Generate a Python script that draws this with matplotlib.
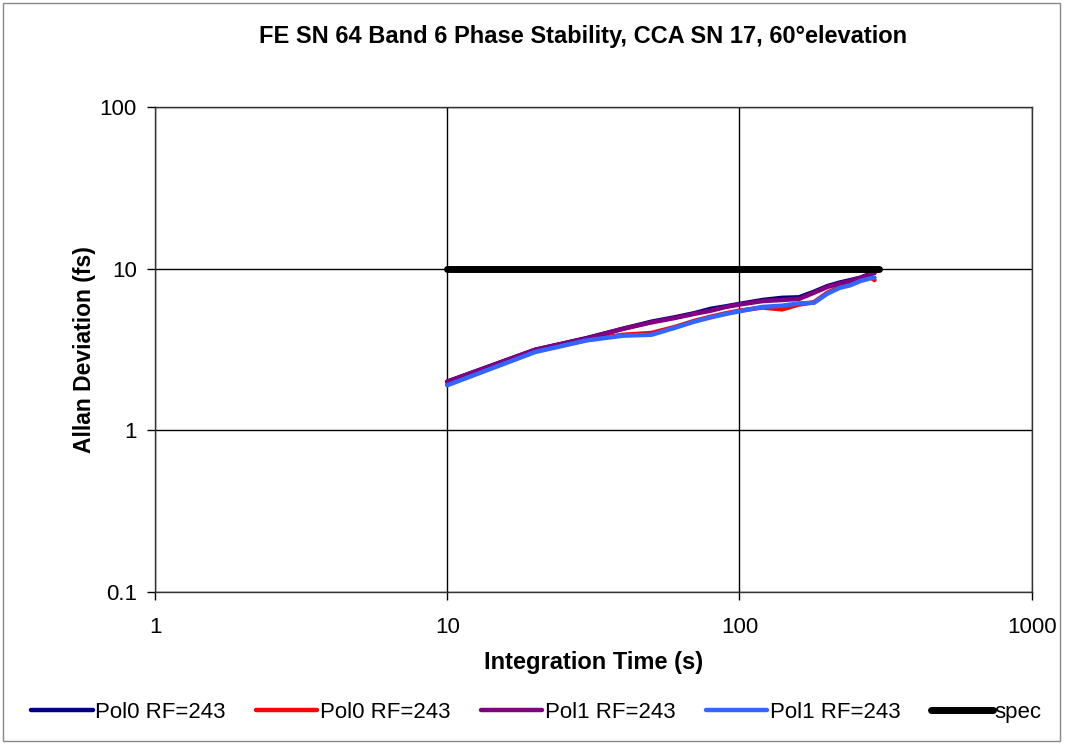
import matplotlib.pyplot as plt
from matplotlib.patches import Rectangle
from matplotlib.ticker import FixedLocator, FixedFormatter, NullLocator

plt.rcParams['font.family'] = ['Liberation Sans', 'DejaVu Sans']

# integration times (s) and Allan deviation (fs) for each polarization / run
t = [10, 20, 30, 40, 50, 60, 70, 80, 90, 100, 120, 140, 160, 180, 200, 220, 240, 260, 280, 290]
pol0_a = [2.0, 3.15, 3.72, 4.25, 4.7, 5.0, 5.3, 5.65, 5.85, 6.05, 6.4, 6.6, 6.65, 7.2, 7.8, 8.2, 8.5, 8.8, 9.3, 9.5]
pol0_b = [1.92, 3.08, 3.62, 3.9, 4.0, 4.35, 4.75, 5.05, 5.3, 5.5, 5.75, 5.6, 6.0, 6.2, 7.1, 7.7, 8.1, 8.5, 8.9, 8.5]
pol1_a = [2.0, 3.15, 3.7, 4.25, 4.65, 4.95, 5.25, 5.5, 5.8, 6.0, 6.3, 6.4, 6.5, 7.1, 7.7, 8.1, 8.4, 8.8, 9.2, 9.4]
pol1_b = [1.9, 3.05, 3.6, 3.85, 3.9, 4.3, 4.7, 5.0, 5.25, 5.45, 5.8, 5.9, 6.1, 6.15, 7.0, 7.6, 7.9, 8.4, 8.7, 8.8]
spec_t = [10, 300]
spec = [10, 10]

series = [
    (pol0_a, 'Pol0 RF=243', '#000080'),
    (pol0_b, 'Pol0 RF=243', '#FF0000'),
    (pol1_a, 'Pol1 RF=243', '#800080'),
    (pol1_b, 'Pol1 RF=243', '#3366FF'),
]

fig = plt.figure(figsize=(10.69, 7.44), dpi=100)
ax = fig.add_axes([0.145, 0.2043, 0.82, 0.6519])

for vals, name, col in series:
    ax.plot(t, vals, color=col, lw=3.2, label=name, solid_capstyle='round')
ax.plot(spec_t, spec, color='black', lw=5, label='spec', solid_capstyle='round')

ax.set_xscale('log')
ax.set_yscale('log')
ax.set_xlim(1, 1000)
ax.set_ylim(0.1, 100)

ax.xaxis.set_major_locator(FixedLocator([1, 10, 100, 1000]))
ax.xaxis.set_major_formatter(FixedFormatter(['1', '10', '100', '1000']))
ax.yaxis.set_major_locator(FixedLocator([0.1, 1, 10, 100]))
ax.yaxis.set_major_formatter(FixedFormatter(['0.1', '1', '10', '100']))
ax.xaxis.set_minor_locator(NullLocator())
ax.yaxis.set_minor_locator(NullLocator())
ax.tick_params(direction='out', length=6, width=1, labelsize=16)
ax.tick_params(axis='x', pad=12)
ax.tick_params(axis='y', pad=7)

ax.grid(True, color='black', lw=1)
for s in ax.spines.values():
    s.set_color('#333333')
    s.set_linewidth(1)

ax.set_xlabel('Integration Time (s)', fontsize=17, fontweight='bold', labelpad=9)
ax.set_ylabel('Allan Deviation (fs)', fontsize=16.5, fontweight='bold', labelpad=3)

fig.text(0.545, 0.951, 'FE SN 64 Band 6 Phase Stability, CCA SN 17, 60°elevation',
         ha='center', va='center', fontsize=17, fontweight='bold')

fig.legend(loc='center', bbox_to_anchor=(0.502, 0.042), ncol=5, frameon=False,
           fontsize=16, handlelength=2.75, handletextpad=0.1, columnspacing=1.4)

# outer chart border
fig.patches.append(Rectangle((3 / 1069, 3 / 744), 1057 / 1069, 738 / 744,
                             transform=fig.transFigure, fill=False,
                             edgecolor='#888888', lw=1))

fig.savefig('out.png', dpi=100)
